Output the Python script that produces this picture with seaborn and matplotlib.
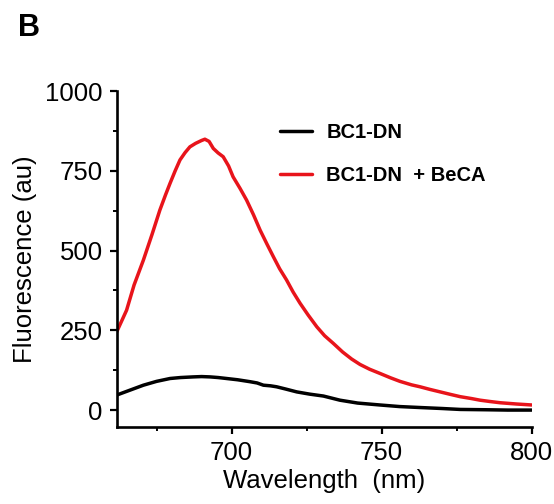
import numpy as np
import pandas as pd
import matplotlib
matplotlib.use("Agg")
import matplotlib.pyplot as plt
import seaborn as sns
from matplotlib.ticker import MultipleLocator
from matplotlib.lines import Line2D

sns.set_style("ticks")
plt.rcParams['font.family'] = ['Liberation Sans', 'DejaVu Sans']
plt.rcParams['text.color'] = 'black'
plt.rcParams['axes.labelcolor'] = 'black'
plt.rcParams['xtick.color'] = 'black'
plt.rcParams['ytick.color'] = 'black'

# Data
wl_red = [661.7, 663.5, 665.0, 667.5, 670.6, 673.5, 676.1, 678.0, 679.5, 681.2,
          682.8, 684.5, 686.1, 688.0, 690.0, 691.1, 692.5, 693.9, 695.5, 697.2,
          699.0, 700.5, 702.8, 705.0, 707.3, 709.5, 711.8, 713.9, 716.0, 718.3,
          720.5, 722.8, 725.5, 728.4, 731.0, 733.9, 737.0, 740.0, 742.8, 746.0,
          749.4, 753.0, 756.1, 760.0, 762.8, 766.0, 769.5, 773.0, 776.2, 780.0,
          782.8, 786.0, 789.5, 795.0, 800.0]
fl_red = [245, 282, 313, 392, 470, 551, 627, 675, 711, 750,
          784, 807, 825, 836, 845, 849, 842, 820, 806, 794,
          765, 731, 695, 658, 612, 564, 520, 481, 443, 408,
          370, 335, 298, 261, 233, 209, 182, 160, 143, 128,
          115, 101, 90, 79, 73, 65, 57, 49, 42, 36,
          31, 27, 23, 19, 16]
wl_black = [661.7, 666.0, 670.6, 675.0, 679.5, 683.0, 687.2, 690.0, 692.8, 695.5,
            698.3, 702.0, 706.1, 708.5, 710.6, 713.0, 715.0, 718.0, 721.7, 726.0,
            730.6, 736.1, 742.0, 749.4, 756.0, 762.8, 770.0, 776.2, 785.0, 792.0,
            800.0]
fl_black = [47, 62, 78, 90, 99, 102, 104, 105, 104, 102,
            99, 95, 89, 85, 78, 76, 73, 66, 57, 50,
            44, 31, 22, 16, 11, 8, 5, 2, 1, 0,
            0]
labels = ["BC1-DN", "BC1-DN  + BeCA"]

df = pd.concat([
    pd.DataFrame({"Wavelength": wl_black, "Fluorescence": fl_black, "Sample": labels[0]}),
    pd.DataFrame({"Wavelength": wl_red, "Fluorescence": fl_red, "Sample": labels[1]}),
])

fig = plt.figure(figsize=(5.54, 5.04), dpi=100)
ax = fig.add_axes([0.2106, 0.1528, 0.9597 - 0.2106, 0.8194 - 0.1528])

sns.lineplot(data=df, x="Wavelength", y="Fluorescence", hue="Sample",
             palette={labels[0]: "#000000", labels[1]: "#e8141b"},
             linewidth=2.5, ax=ax, legend=False, sort=True)

ax.set_xlim(661.7, 800)
ax.set_ylim(-53, 1000)
ax.set_xticks([700, 750, 800])
ax.set_yticks([0, 250, 500, 750, 1000])
ax.xaxis.set_minor_locator(MultipleLocator(25))
ax.yaxis.set_minor_locator(MultipleLocator(125))
ax.tick_params(which="major", direction="out", length=5, width=1.6,
               labelsize=18.5, pad=5, colors="black")
ax.tick_params(which="minor", direction="out", length=3, width=1.4, colors="black")
for s in ["top", "right"]:
    ax.spines[s].set_visible(False)
for s in ["left", "bottom"]:
    ax.spines[s].set_linewidth(1.9)
    ax.spines[s].set_color("black")

ax.set_xlabel("Wavelength  (nm)", fontsize=18.5, labelpad=3)
ax.set_ylabel("Fluorescence (au)", fontsize=18.5, labelpad=6)

handles = [Line2D([], [], color="#000000", lw=2.5),
           Line2D([], [], color="#e8141b", lw=2.5)]
leg = ax.legend(handles, labels, frameon=False, loc="upper left",
                bbox_to_anchor=(0.35, 0.96), handlelength=1.6, handletextpad=0.7,
                labelspacing=1.2, prop={"weight": "bold", "size": 14.5})

fig.text(0.032, 0.928, "B", fontsize=22, fontweight="bold", color="black")

fig.savefig("out.png", dpi=100)
